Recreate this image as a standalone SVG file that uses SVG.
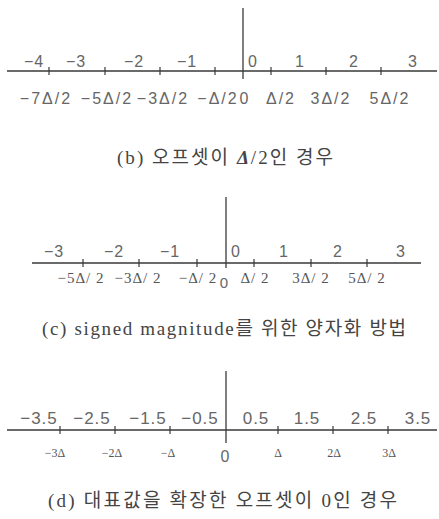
<svg xmlns="http://www.w3.org/2000/svg" width="439" height="519" viewBox="0 0 439 519">
<style>
.ax{stroke:#3a3a3a;stroke-width:1.3;fill:none}
.tk{stroke:#3a3a3a;stroke-width:1.2}
.s{font-family:"Liberation Sans","DejaVu Sans",sans-serif;fill:#666;text-anchor:middle}
.t15{font-size:16px;letter-spacing:1px}
.t16{font-size:17px;letter-spacing:1px}
.r{font-family:"Liberation Serif","Noto Sans CJK KR",serif;fill:#555;text-anchor:middle}
.r14{font-size:15px;letter-spacing:1px}
.r12{font-size:12px}
.cap{font-family:"Liberation Serif","Noto Sans CJK KR",serif;font-size:19px;fill:#444}
</style>
<rect width="439" height="519" fill="#fff"/>
<g id="connectors">
  <path class="ax" d="M243 8V79M7 71H437"/>
  <path class="tk" d="M49 67V75M105 67V75M160 67V75M215 67V75M271 67V75M326 67V75M381 67V75"/>
  <path class="ax" d="M226 197V268M32 263H421"/>
  <path class="tk" d="M83 259V267M139 259V267M197 259V267M254 259V267M311 259V267M367 259V267"/>
  <path class="ax" d="M226 371V443M7 430H437"/>
  <path class="tk" d="M60 426V434M115 426V434M170 426V434M278 426V434M333 426V434M388 426V434"/>
</g>
<g id="panel-b">
  <g class="s t15">
    <text x="34" y="67">−4</text><text x="76" y="67">−3</text><text x="134" y="67">−2</text><text x="187" y="67">−1</text>
    <text x="253" y="67">0</text><text x="300" y="67">1</text><text x="354" y="67">2</text><text x="413" y="67">3</text>
  </g>
  <g class="s" style="font-size:16px;letter-spacing:2px">
    <text x="46" y="104">−7Δ/2</text><text x="107" y="104">−5Δ/2</text><text x="163" y="104">−3Δ/2</text><text x="218" y="104">−Δ/2</text>
    <text x="245" y="104">0</text><text x="281" y="104">Δ/2</text><text x="331" y="104">3Δ/2</text><text x="390" y="104">5Δ/2</text>
  </g>
  <text id="cap-b" class="cap" x="117" y="164" textLength="216" lengthAdjust="spacing">(b) 오프셋이 <tspan font-weight="bold" font-style="italic">Δ</tspan>/2인 경우</text>
</g>
<g id="panel-c">
  <g class="s t15">
    <text x="54" y="257">−3</text><text x="114" y="257">−2</text><text x="170" y="257">−1</text>
    <text x="236" y="257">0</text><text x="284" y="257">1</text><text x="338" y="257">2</text><text x="401" y="257">3</text>
  </g>
  <g class="r r14">
    <text x="81" y="283">−5Δ/ 2</text><text x="138" y="283">−3Δ/ 2</text><text x="198" y="283">−Δ/ 2</text>
    <text x="255" y="283">Δ/ 2</text><text x="311" y="283">3Δ/ 2</text><text x="367" y="283">5Δ/ 2</text>
  </g>
  <text class="s" x="224" y="288" style="font-size:15px">0</text>
  <text id="cap-c" class="cap" x="42" y="335" textLength="364" lengthAdjust="spacing">(c) signed magnitude를 위한 양자화 방법</text>
</g>
<g id="panel-d">
  <g class="s t16">
    <text x="39" y="424">−3.5</text><text x="92" y="424">−2.5</text><text x="148" y="424">−1.5</text><text x="200" y="424">−0.5</text>
    <text x="256" y="424">0.5</text><text x="307" y="424">1.5</text><text x="364" y="424">2.5</text><text x="418" y="424">3.5</text>
  </g>
  <g class="r r12">
    <text x="55" y="457">−3Δ</text><text x="112" y="457">−2Δ</text><text x="168" y="457">−Δ</text>
    <text x="278" y="457">Δ</text><text x="334" y="457">2Δ</text><text x="389" y="457">3Δ</text>
  </g>
  <text class="s" x="225" y="462" style="font-size:16px">0</text>
  <text id="cap-d" class="cap" x="48" y="507" textLength="349" lengthAdjust="spacing">(d) 대표값을 확장한 오프셋이 0인 경우</text>
</g>
</svg>
